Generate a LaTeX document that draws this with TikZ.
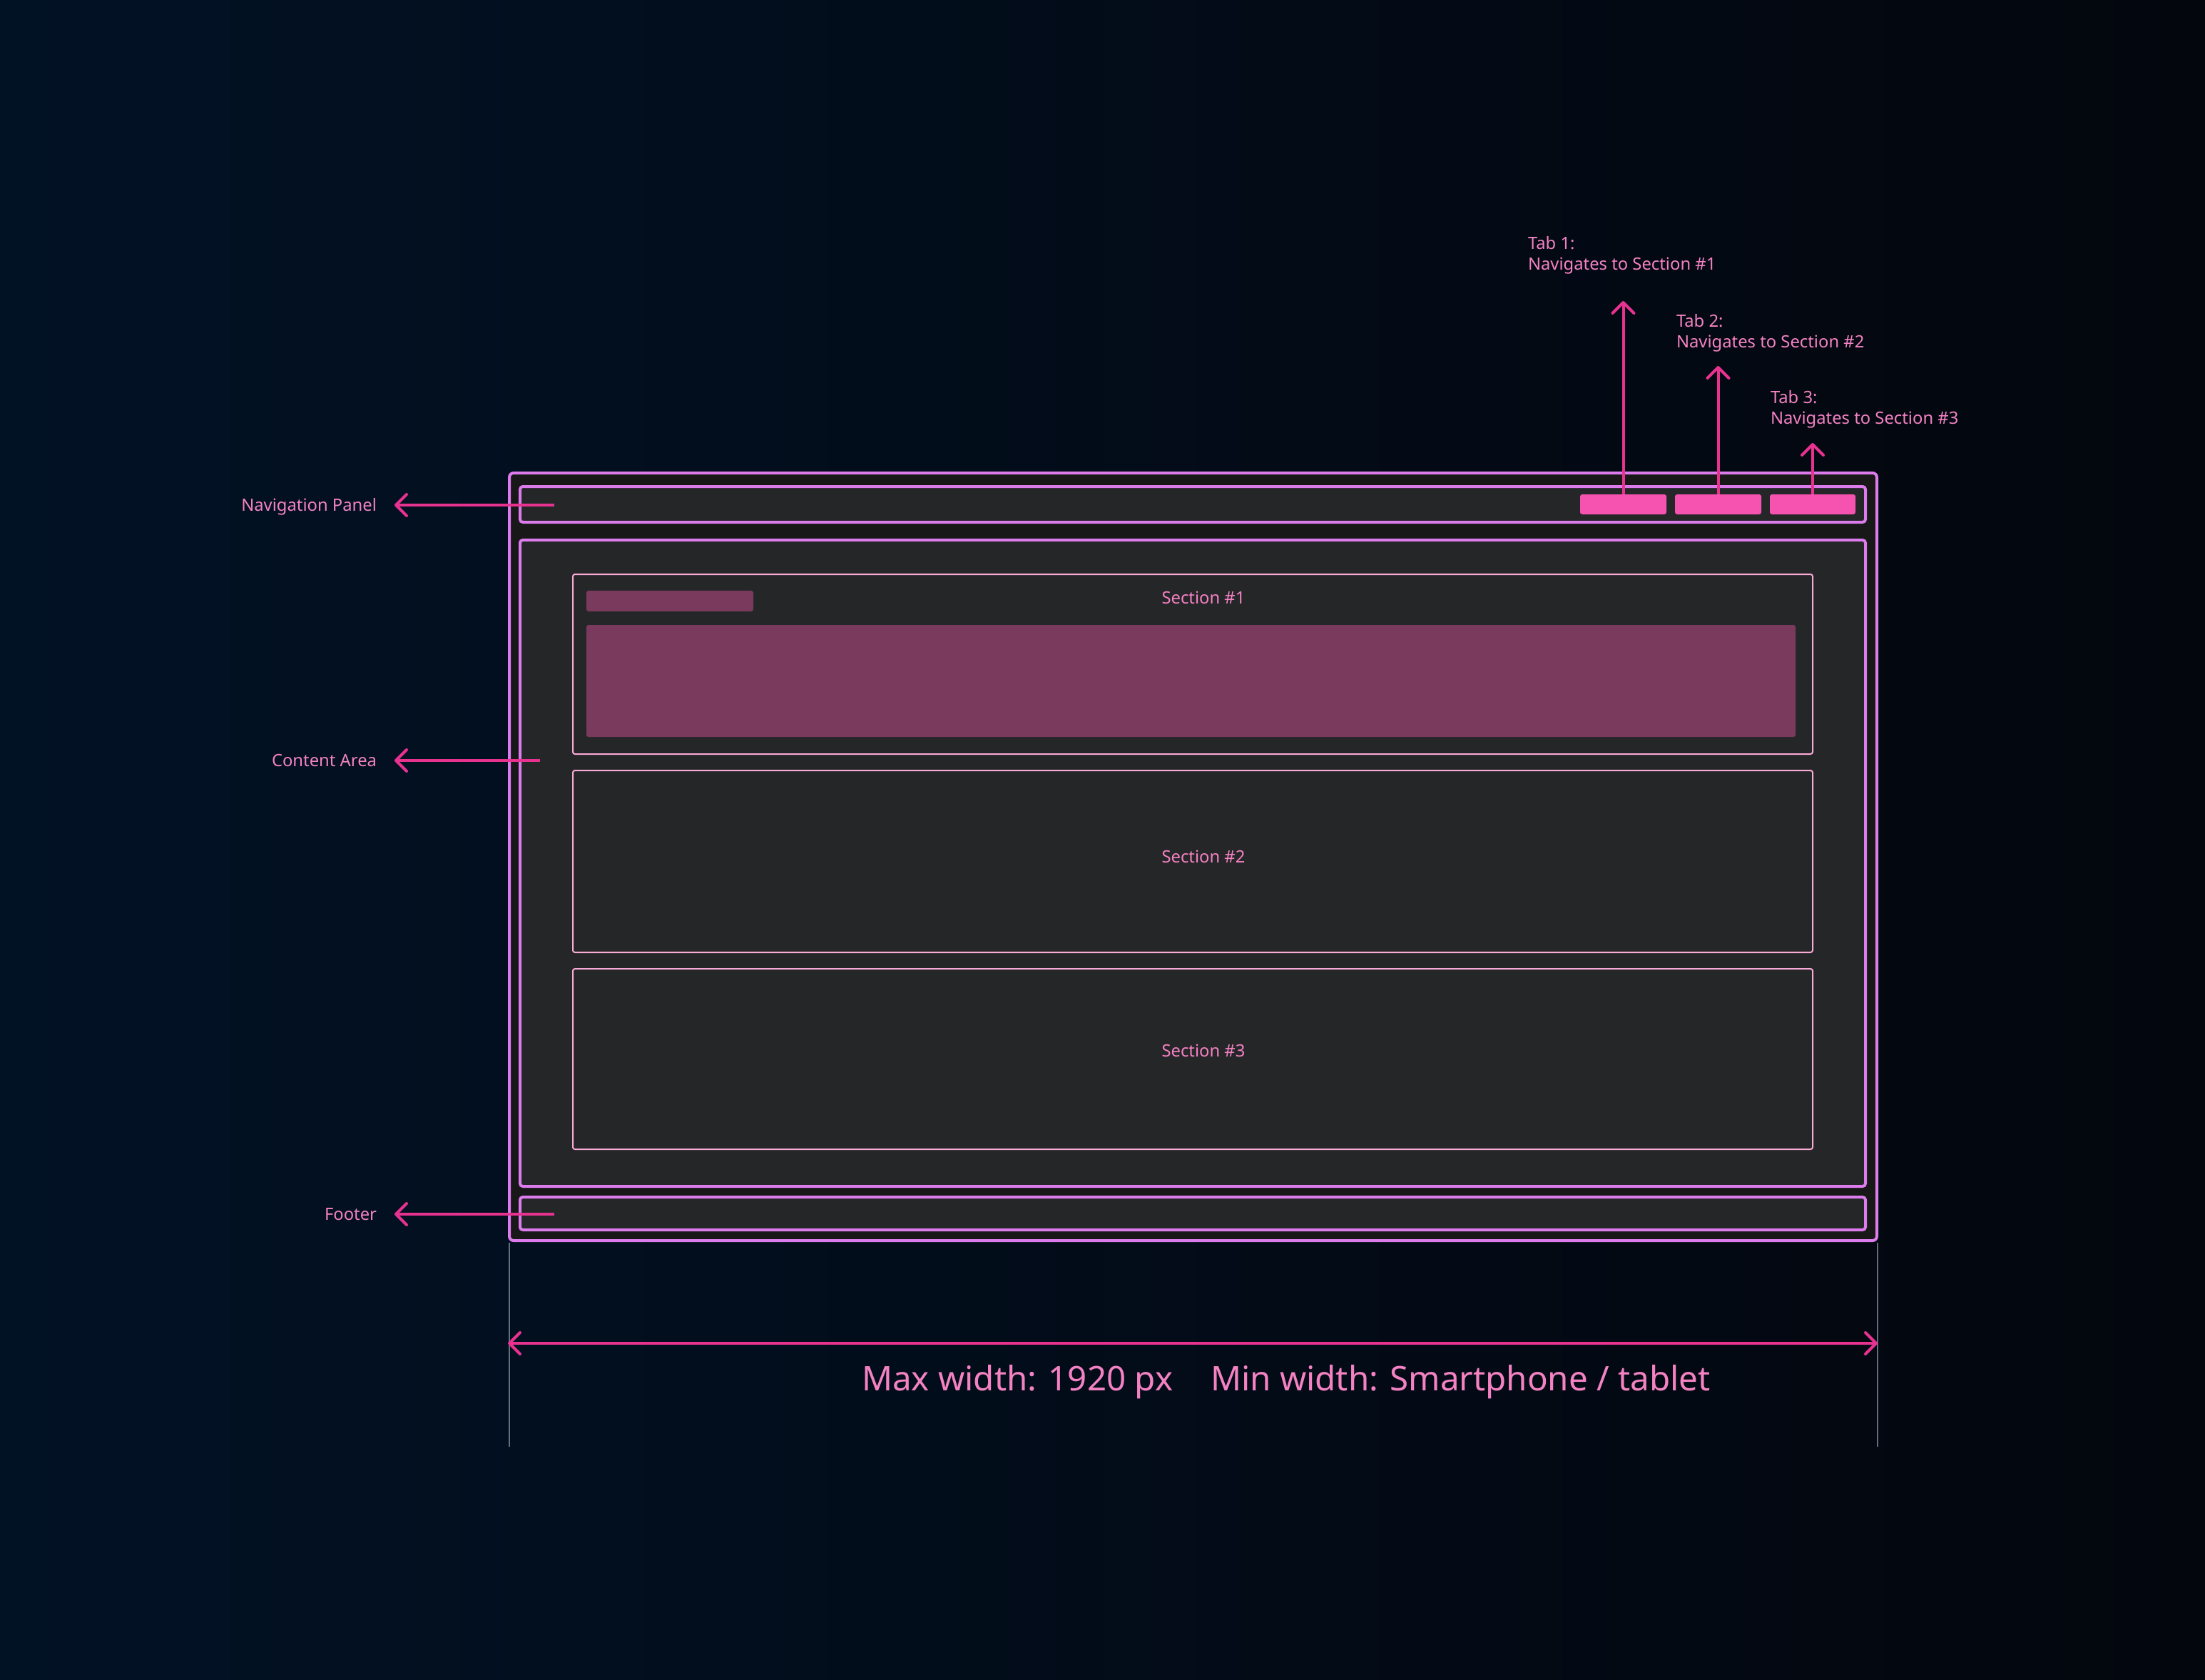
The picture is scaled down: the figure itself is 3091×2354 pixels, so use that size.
\documentclass[tikz,border=0pt]{standalone}
\usepackage{fontspec}
\setmainfont{Noto Sans}
\usetikzlibrary{arrows.meta}

\definecolor{bgLeft}{RGB}{2,18,37}
\definecolor{bgRight}{RGB}{3,6,13}
\definecolor{frameViolet}{RGB}{220,124,236}
\definecolor{frameFill}{RGB}{24,24,25}
\definecolor{panelFill}{RGB}{37,38,40}
\definecolor{sectionLine}{RGB}{250,170,214}
\definecolor{placeholder}{RGB}{122,58,94}
\definecolor{tabPink}{RGB}{246,82,176}
\definecolor{arrowPink}{RGB}{232,50,144}
\definecolor{labelPink}{RGB}{244,130,195}
\definecolor{extGrey}{RGB}{100,110,125}

\tikzset{
  box/.style={rectangle, anchor=north west, inner sep=0pt, outer sep=0pt},
  outerframe/.style={box, draw=frameViolet, fill=frameFill, line width=4pt, rounded corners=6pt},
  panel/.style={box, draw=frameViolet, fill=panelFill, line width=4pt, rounded corners=4pt},
  sectionbox/.style={box, draw=sectionLine, line width=2pt, rounded corners=3pt},
  blockfill/.style={box, fill=placeholder, rounded corners=3pt},
  tabbtn/.style={box, fill=tabPink, rounded corners=3pt},
  lbl/.style={inner sep=0pt, outer sep=0pt, text=labelPink, font=\fontsize{23.8}{29}\selectfont},
  bigtxt/.style={inner sep=0pt, outer sep=0pt, text=labelPink, font=\fontsize{47.5}{56}\selectfont},
  barb/.tip={Straight Barb[length=15pt, width=30pt, round]},
  pointer/.style={draw=arrowPink, line width=4pt, -barb},
  extline/.style={draw=extGrey, line width=1.2pt}
}

\begin{document}
\begin{tikzpicture}[x=1pt, y=-1pt]
  % background
  \fill[left color=bgLeft, right color=bgRight] (0,0) rectangle (3091,2354);
  \useasboundingbox (0,0) rectangle (3091,2354);

  % page frame and its three regions
  \node[outerframe, minimum width=1917pt, minimum height=1076pt] (frame) at (714,663) {};
  \node[panel, minimum width=1886pt, minimum height=50pt] (nav) at (729,682) {};
  \node[panel, minimum width=1886pt, minimum height=906pt] (content) at (729,757) {};
  \node[panel, minimum width=1886pt, minimum height=46pt] (footer) at (729,1678) {};

  % navigation tabs
  \node[tabbtn, minimum width=121pt, minimum height=28pt] (tab1) at (2215,693) {};
  \node[tabbtn, minimum width=121pt, minimum height=28pt] (tab2) at (2348,693) {};
  \node[tabbtn, minimum width=120pt, minimum height=28pt] (tab3) at (2481,693) {};

  % sections
  \node[sectionbox, minimum width=1738pt, minimum height=252pt] (sec1) at (803,805) {};
  \node[sectionbox, minimum width=1738pt, minimum height=255pt] (sec2) at (803,1080) {};
  \node[sectionbox, minimum width=1738pt, minimum height=253pt] (sec3) at (803,1358) {};

  \node[blockfill, minimum width=234pt, minimum height=29pt] (bar) at (822,828) {};
  \node[blockfill, minimum width=1695pt, minimum height=157pt] (block) at (822,876) {};

  \node[lbl, anchor=base] (sec1lbl) at (1687,846) {Section \#1};
  \node[lbl, anchor=base] (sec2lbl) at (1687,1209) {Section \#2};
  \node[lbl, anchor=base] (sec3lbl) at (1687,1481) {Section \#3};

  % region labels on the left
  \node[lbl, anchor=base east] (navlbl) at (528,716) {Navigation Panel};
  \node[lbl, anchor=base east] (contentlbl) at (528,1074) {Content Area};
  \node[lbl, anchor=base east] (footerlbl) at (528,1710) {Footer};

  \coordinate (navsrc) at (777,708);
  \coordinate (navtip) at (553,708);
  \coordinate (contentsrc) at (757,1066);
  \coordinate (contenttip) at (553,1066);
  \coordinate (footersrc) at (777,1702);
  \coordinate (footertip) at (553,1702);
  \draw[pointer] (navsrc) -- (navtip);
  \draw[pointer] (contentsrc) -- (contenttip);
  \draw[pointer] (footersrc) -- (footertip);

  % tab annotations
  \node[lbl, anchor=base west] (tab1lbl) at (2142,349)
    {\begin{tabular}[t]{@{}l@{}}Tab 1:\\Navigates to Section \#1\end{tabular}};
  \node[lbl, anchor=base west] (tab2lbl) at (2350,458)
    {\begin{tabular}[t]{@{}l@{}}Tab 2:\\Navigates to Section \#2\end{tabular}};
  \node[lbl, anchor=base west] (tab3lbl) at (2482,565)
    {\begin{tabular}[t]{@{}l@{}}Tab 3:\\Navigates to Section \#3\end{tabular}};

  \coordinate (tab1tip) at (2275.5,422);
  \coordinate (tab2tip) at (2408.5,513);
  \coordinate (tab3tip) at (2541,621);
  \draw[pointer] (tab1.north) -- (tab1tip);
  \draw[pointer] (tab2.north) -- (tab2tip);
  \draw[pointer] (tab3.north) -- (tab3tip);

  % width dimension
  \coordinate (extLtop) at (714,1742);
  \coordinate (extLbot) at (714,2028);
  \coordinate (extRtop) at (2632,1742);
  \coordinate (extRbot) at (2632,2028);
  \draw[extline] (extLtop) -- (extLbot);
  \draw[extline] (extRtop) -- (extRbot);

  \coordinate (dimL) at (712,1883);
  \coordinate (dimR) at (2632,1883);
  \draw[draw=arrowPink, line width=4pt, barb-barb] (dimL) -- (dimR);

  \node[bigtxt, anchor=base west] (maxw) at (1208,1949) {Max width: 1920 px};
  \node[bigtxt, anchor=base west] (minw) at (1697,1949) {Min width: Smartphone / tablet};
\end{tikzpicture}
\end{document}
